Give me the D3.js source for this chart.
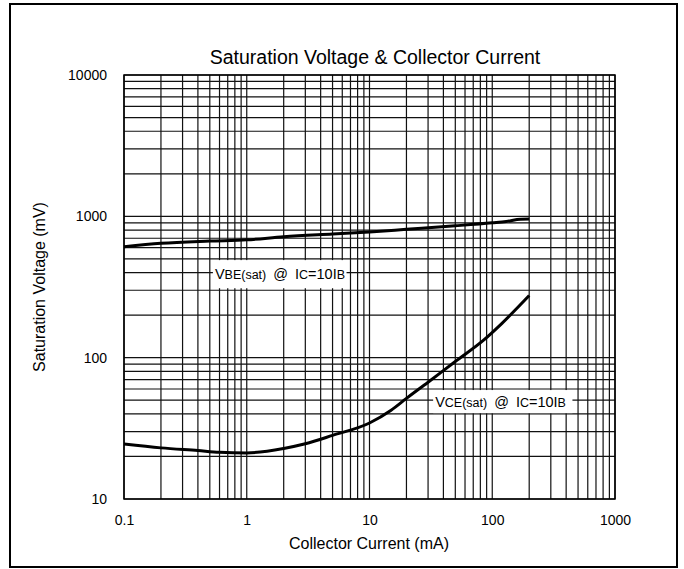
<!DOCTYPE html>
<html>
<head>
<meta charset="utf-8">
<script src="https://cdn.jsdelivr.net/npm/d3@7"></script>
<style>
  body { margin: 0; background: #fff; }
  text { font-family: "Liberation Sans", Arial, sans-serif; fill: #000; }
</style>
</head>
<body>
<svg id="chart"></svg>
<script>
// Collector current (mA) and saturation voltages (mV)
var vbeCurrent = [0.1, 0.2, 0.5, 1, 2, 5, 10, 20, 50, 100, 130, 170, 200];
var vbeVoltage = [610, 644, 668, 682, 717, 750, 775, 809, 857, 900, 920, 955, 957];

var vceCurrent = [0.1, 0.2, 0.4, 0.6, 1, 2, 3, 5, 10, 15, 20, 30, 50, 85, 120, 200];
var vceVoltage = [24.5, 23, 22, 21.4, 21.2, 22.8, 24.6, 28.2, 34.5, 42.5, 51.5, 67, 94, 133, 175, 275];

var xTickLabels = [0.1, 1, 10, 100, 1000];
var yTickLabels = [10, 100, 1000, 10000];

var width = 684;
var height = 569;
var margin = {top: 75, right: 69, bottom: 70, left: 124};

var svg = d3.select("#chart")
            .attr("width", width)
            .attr("height", height);

// outer frame
svg.append("rect")
   .attr("x", 10)
   .attr("y", 4)
   .attr("width", 667)
   .attr("height", 563)
   .attr("fill", "none")
   .attr("stroke", "#000")
   .attr("stroke-width", 2);

var x = d3.scaleLog()
          .domain([0.1, 1000])
          .range([margin.left, width - margin.right]);

var y = d3.scaleLog()
          .domain([10, 10000])
          .range([height - margin.bottom, margin.top]);

// grid lines, every 1..9 in each decade
var grid = svg.append("g").attr("class", "grid");

grid.selectAll(".vline")
    .data(x.ticks())
    .enter().append("line")
    .attr("x1", d => x(d))
    .attr("x2", d => x(d))
    .attr("y1", y(10))
    .attr("y2", y(10000))
    .attr("stroke", "#111")
    .attr("stroke-width", 1.2);

grid.selectAll(".hline")
    .data(y.ticks())
    .enter().append("line")
    .attr("y1", d => y(d))
    .attr("y2", d => y(d))
    .attr("x1", x(0.1))
    .attr("x2", x(1000))
    .attr("stroke", "#111")
    .attr("stroke-width", 1.2);

svg.append("rect")
   .attr("x", x(0.1))
   .attr("y", y(10000))
   .attr("width", x(1000) - x(0.1))
   .attr("height", y(10) - y(10000))
   .attr("fill", "none")
   .attr("stroke", "#000")
   .attr("stroke-width", 1.5);

// axes (labels only, the grid already draws the lines)
var xAxis = svg.append("g")
               .attr("transform", `translate(0,${y(10) + 10})`)
               .call(d3.axisBottom(x).tickValues(xTickLabels).tickSize(0).tickFormat(d3.format("")));
xAxis.select(".domain").remove();
xAxis.selectAll("text")
     .attr("dy", "0.9em")
     .style("font-family", "Liberation Sans, Arial, sans-serif")
     .style("font-size", "14px");

var yAxis = svg.append("g")
               .attr("transform", `translate(${x(0.1) - 17},0)`)
               .call(d3.axisLeft(y).tickValues(yTickLabels).tickSize(0).tickFormat(d3.format("")));
yAxis.select(".domain").remove();
yAxis.selectAll("text")
     .attr("x", 0)
     .style("font-family", "Liberation Sans, Arial, sans-serif")
     .style("font-size", "14px");

// curves
var line = d3.line()
             .x(d => x(d[0]))
             .y(d => y(d[1]))
             .curve(d3.curveMonotoneX);

svg.append("path")
   .datum(d3.zip(vbeCurrent, vbeVoltage))
   .attr("d", line)
   .attr("fill", "none")
   .attr("stroke", "#000")
   .attr("stroke-width", 3);

svg.append("path")
   .datum(d3.zip(vceCurrent, vceVoltage))
   .attr("d", line)
   .attr("fill", "none")
   .attr("stroke", "#000")
   .attr("stroke-width", 3);

// curve labels on white boxes
function curveLabel(x0, x1, y0, y1, sub) {
  svg.append("rect")
     .attr("x", x(x0))
     .attr("y", y(y0))
     .attr("width", x(x1) - x(x0))
     .attr("height", y(y1) - y(y0))
     .attr("fill", "#fff");
  var t = svg.append("text")
             .attr("x", x(x0) + 2)
             .attr("y", (y(y0) + y(y1)) / 2 + 5)
             .style("font-size", "14.5px");
  t.append("tspan").text("V");
  t.append("tspan").style("font-size", "12.5px").text(sub + "(sat)");
  t.append("tspan").attr("dx", 7).text("@");
  t.append("tspan").attr("dx", 7).text("I");
  t.append("tspan").style("font-size", "12.5px").text("C");
  t.append("tspan").text("=10I");
  t.append("tspan").style("font-size", "12.5px").text("B");
}

curveLabel(0.53, 6.5, 490, 310, "BE");
curveLabel(33, 450, 59, 40.5, "CE");

// titles
svg.append("text")
   .attr("x", 375)
   .attr("y", 64)
   .attr("text-anchor", "middle")
   .style("font-size", "19.5px")
   .text("Saturation Voltage & Collector Current");

svg.append("text")
   .attr("x", 369)
   .attr("y", 549)
   .attr("text-anchor", "middle")
   .style("font-size", "16px")
   .text("Collector Current (mA)");

svg.append("text")
   .attr("transform", `translate(45,${(y(10) + y(10000)) / 2}) rotate(-90)`)
   .attr("text-anchor", "middle")
   .style("font-size", "16px")
   .text("Saturation Voltage (mV)");
</script>
</body>
</html>
